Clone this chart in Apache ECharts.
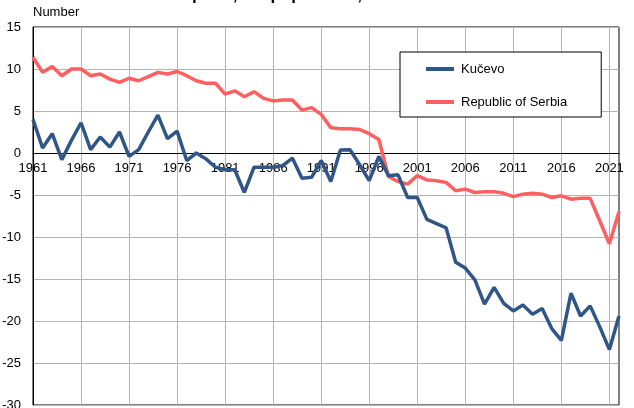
<!DOCTYPE html>
<html>
<head>
<meta charset="utf-8">
<script src="https://cdn.jsdelivr.net/npm/echarts@6/dist/echarts.min.js"></script>
<style>
html,body{margin:0;padding:0;background:#fff;}
#chart{width:634px;height:408px;}
</style>
</head>
<body>
<div id="chart"></div>
<script>
var years = [];
for (var y = 1961; y <= 2022; y++) years.push(String(y));

var kucevo = [4.0, 0.6, 2.3, -0.8, 1.5, 3.6, 0.4, 1.9, 0.7, 2.5,
  -0.4, 0.4, 2.5, 4.5, 1.7, 2.6, -0.9, 0.0, -0.7, -1.7,
  -2.0, -2.0, -4.7, -1.7, -1.7, -1.7, -1.5, -0.6, -3.0, -2.9,
  -0.9, -3.4, 0.35, 0.4, -1.4, -3.3, -0.4, -2.7, -2.6, -5.3,
  -5.3, -7.9, -8.4, -8.9, -13.0, -13.7, -15.1, -18.0, -16.0, -17.9,
  -18.8, -18.1, -19.2, -18.5, -20.9, -22.3, -16.7, -19.4, -18.2, -20.7,
  -23.4, -19.4];

var serbia = [11.4, 9.6, 10.3, 9.2, 10.0, 10.0, 9.2, 9.4, 8.8, 8.4,
  8.9, 8.6, 9.1, 9.6, 9.4, 9.7, 9.2, 8.6, 8.3, 8.3,
  7.0, 7.4, 6.7, 7.3, 6.5, 6.2, 6.3, 6.3, 5.1, 5.4,
  4.6, 3.0, 2.9, 2.9, 2.8, 2.3, 1.6, -2.8, -3.4, -3.7,
  -2.7, -3.2, -3.3, -3.5, -4.5, -4.3, -4.7, -4.6, -4.6, -4.8,
  -5.2, -4.9, -4.8, -4.9, -5.3, -5.1, -5.5, -5.4, -5.4, -8.1,
  -10.8, -7.0];

var seriesNames = ['Kučevo', 'Republic of Serbia'];
var titleText = 'Natural increase per 1,000 population, 1961–2022';
var yLabel = 'Number';
var yMin = -30, yMax = 15, yStep = 5;

var gridTop = 27, gridBottom = 3, H = 408;
var plotH = H - gridTop - gridBottom;
var zeroOffset = -plotH * (0 - yMin) / (yMax - yMin);

var chart = echarts.init(document.getElementById('chart'), null, {renderer: 'canvas'});
var font = 'Liberation Sans, Arial, sans-serif';
var legendIcon = 'path://M0,0L28,0L28,4L0,4Z';
chart.setOption({
  animation: false,
  backgroundColor: '#fff',
  textStyle: {fontFamily: font},
  title: {
    text: titleText,
    left: 50, top: -18,
    textStyle: {fontSize: 17, fontWeight: 'bold', color: '#000', fontFamily: font}
  },
  graphic: [{
    type: 'text', left: 33, top: 6,
    style: {text: yLabel, fontSize: 13, fill: '#000', fontFamily: font}
  }],
  legend: {
    orient: 'vertical',
    left: 400, top: 52,
    padding: [10, 34, 8, 26],
    itemWidth: 28, itemHeight: 14, itemGap: 19,
    backgroundColor: '#fff',
    borderColor: '#000', borderWidth: 1, borderRadius: 0,
    textStyle: {fontSize: 13, color: '#000', fontFamily: font, lineHeight: 14, padding: [0, 0, 0, 2]},
    data: [
      {name: seriesNames[0], icon: legendIcon, itemStyle: {color: '#2f5686'}},
      {name: seriesNames[1], icon: legendIcon, itemStyle: {color: '#ff5f5f'}}
    ]
  },
  grid: {
    left: 33, right: 15, top: gridTop, bottom: gridBottom,
    outerBoundsMode: 'none', containLabel: false,
    show: true, borderColor: '#000', borderWidth: 1, backgroundColor: 'transparent'
  },
  xAxis: {
    type: 'category',
    data: years,
    boundaryGap: false,
    position: 'bottom',
    offset: zeroOffset,
    axisLine: {onZero: false, lineStyle: {color: '#000', width: 1}},
    axisTick: {show: false},
    axisLabel: {interval: function (i) { return i % 5 === 0; }, fontSize: 13, color: '#000', margin: 9, fontFamily: font},
    splitLine: {show: true, interval: function (i) { return i % 5 === 0; }, lineStyle: {color: '#b4b4b4', width: 1}}
  },
  yAxis: {
    type: 'value',
    min: yMin, max: yMax, interval: yStep,
    axisLine: {show: true, onZero: false, lineStyle: {color: '#000'}},
    axisTick: {show: false},
    axisLabel: {fontSize: 13, color: '#000', margin: 12, fontFamily: font},
    splitLine: {show: true, lineStyle: {color: '#b4b4b4', width: 1}}
  },
  series: [
    {name: seriesNames[0], type: 'line', data: kucevo, symbol: 'none', showSymbol: false,
     lineStyle: {color: '#2f5686', width: 3.5}, itemStyle: {color: '#2f5686'}, z: 3},
    {name: seriesNames[1], type: 'line', data: serbia, symbol: 'none', showSymbol: false,
     lineStyle: {color: '#ff5f5f', width: 3.5}, itemStyle: {color: '#ff5f5f'}, z: 2}
  ]
});
</script>
</body>
</html>
